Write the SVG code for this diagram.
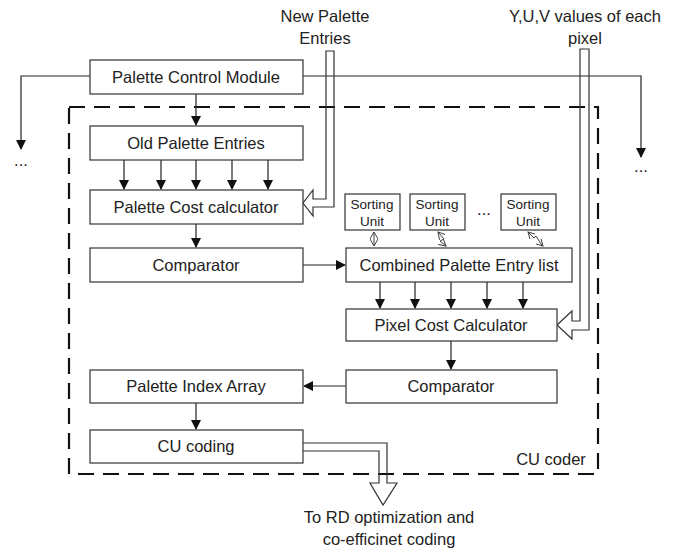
<svg xmlns="http://www.w3.org/2000/svg" width="675" height="550" viewBox="0 0 675 550">
<style>
.box{fill:#fff;stroke:#333;stroke-width:1.2}
.t{font-family:"Liberation Sans",Arial,sans-serif;font-size:16.5px;fill:#222;text-anchor:middle;dominant-baseline:central}
.ts{font-family:"Liberation Sans",Arial,sans-serif;font-size:13.5px;fill:#222;text-anchor:middle;dominant-baseline:central}
.ln{fill:none;stroke:#222;stroke-width:1.2}
.hol{fill:none;stroke:#333;stroke-width:1.2}
.dash{fill:none;stroke:#111;stroke-width:2.2;stroke-dasharray:16,9}
.sm{fill:none;stroke:#444;stroke-width:1}
</style>
<defs>
<marker id="ah" markerWidth="10" markerHeight="10" refX="9" refY="5" orient="auto" markerUnits="userSpaceOnUse">
<path d="M0,0 L10,5 L0,10 z" fill="#111"/>
</marker>
<marker id="oh" markerWidth="8" markerHeight="8" refX="7" refY="4" orient="auto-start-reverse" markerUnits="userSpaceOnUse">
<path d="M0,0 L7,4 L0,8" fill="none" stroke="#444" stroke-width="1"/>
</marker>
</defs>
<rect class="dash" x="69" y="107" width="529" height="367"/>
<g id="connectors">
<path class="ln" d="M90,76 H21 V149" marker-end="url(#ah)"/>
<path class="ln" d="M303,76 H641 V157" marker-end="url(#ah)"/>
<path class="ln" d="M196,94 V125" marker-end="url(#ah)"/>
<path class="ln" d="M124,160 V189" marker-end="url(#ah)"/>
<path class="ln" d="M161,160 V189" marker-end="url(#ah)"/>
<path class="ln" d="M196,160 V189" marker-end="url(#ah)"/>
<path class="ln" d="M232,160 V189" marker-end="url(#ah)"/>
<path class="ln" d="M268,160 V189" marker-end="url(#ah)"/>
<path class="ln" d="M196,224 V247" marker-end="url(#ah)"/>
<path class="ln" d="M303,265 H345" marker-end="url(#ah)"/>
<path class="ln" d="M380,282 V308" marker-end="url(#ah)"/>
<path class="ln" d="M415,282 V308" marker-end="url(#ah)"/>
<path class="ln" d="M451,282 V308" marker-end="url(#ah)"/>
<path class="ln" d="M487,282 V308" marker-end="url(#ah)"/>
<path class="ln" d="M523,282 V308" marker-end="url(#ah)"/>
<path class="ln" d="M451,341 V369" marker-end="url(#ah)"/>
<path class="ln" d="M346,386 H304" marker-end="url(#ah)"/>
<path class="ln" d="M196,403 V429" marker-end="url(#ah)"/>
<path class="sm" d="M374,232 V246" marker-start="url(#oh)" marker-end="url(#oh)"/>
<path class="sm" d="M438,232 L444,239 L440,241 L446,246" marker-start="url(#oh)" marker-end="url(#oh)"/>
<path class="sm" d="M528,232 L534,238 L536,236 L541,244 L543,246" marker-start="url(#oh)" marker-end="url(#oh)"/>
<path class="hol" d="M326,51 H334 V207 H313 V216 L303,203 L313,190 V199 H326 Z"/>
<path class="hol" d="M580,49 H589 V330 H572 V339 L557,325 L572,311 V321 H580 Z"/>
<path class="hol" d="M303,443 H387 V483 H397 L383,505 L370,483 H379 V451 H303"/>
</g>
<g id="pcm"><rect class="box" x="90" y="60" width="213" height="34"/><text class="t" x="196" y="77">Palette Control Module</text></g>
<g id="ope"><rect class="box" x="90" y="126" width="213" height="34"/><text class="t" x="196" y="143">Old Palette Entries</text></g>
<g id="pcc"><rect class="box" x="90" y="190" width="213" height="34"/><text class="t" x="196" y="207">Palette Cost calculator</text></g>
<g id="cmp1"><rect class="box" x="90" y="248" width="213" height="34"/><text class="t" x="196" y="265">Comparator</text></g>
<g id="cpel"><rect class="box" x="346" y="248" width="226" height="34"/><text class="t" x="459" y="265">Combined Palette Entry list</text></g>
<g id="su1"><rect class="box" x="345" y="194" width="55" height="36"/><text class="ts" x="372" y="204">Sorting</text><text class="ts" x="372" y="221">Unit</text></g>
<g id="su2"><rect class="box" x="410" y="194" width="55" height="36"/><text class="ts" x="437" y="204">Sorting</text><text class="ts" x="437" y="221">Unit</text></g>
<g id="su3"><rect class="box" x="501" y="194" width="55" height="36"/><text class="ts" x="528" y="204">Sorting</text><text class="ts" x="528" y="221">Unit</text></g>
<text class="t" x="484" y="209">...</text>
<g id="pxcc"><rect class="box" x="346" y="309" width="211" height="32"/><text class="t" x="451" y="325">Pixel Cost Calculator</text></g>
<g id="cmp2"><rect class="box" x="346" y="370" width="211" height="33"/><text class="t" x="451" y="386">Comparator</text></g>
<g id="pia"><rect class="box" x="90" y="370" width="213" height="33"/><text class="t" x="196" y="386">Palette Index Array</text></g>
<g id="cuc"><rect class="box" x="90" y="430" width="213" height="33"/><text class="t" x="196" y="446">CU coding</text></g>
<text class="t" x="551" y="459">CU coder</text>
<text class="t" x="21" y="160">...</text>
<text class="t" x="641" y="166">...</text>
<text class="t" x="325" y="16">New Palette</text>
<text class="t" x="325" y="38">Entries</text>
<text class="t" x="585" y="16">Y,U,V values of each</text>
<text class="t" x="585" y="38">pixel</text>
<text class="t" x="389" y="517">To RD optimization and</text>
<text class="t" x="389" y="539">co-efficinet coding</text>
</svg>
